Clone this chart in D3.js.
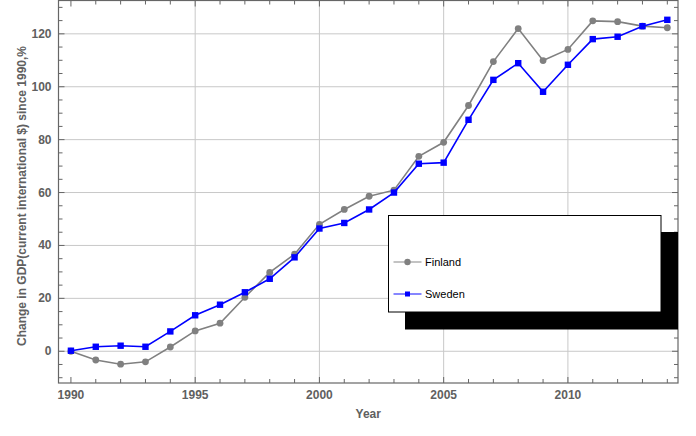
<!DOCTYPE html>
<html>
<head>
<meta charset="utf-8">
<script src="https://d3js.org/d3.v7.min.js"></script>
<style>
body { margin: 0; background: #fff; }
svg { display: block; font-family: "Liberation Sans", Arial, sans-serif; }
</style>
</head>
<body>
<script>
var years = d3.range(1990, 2015);
var finland = [0, -3.3, -4.9, -4.0, 1.6, 7.7, 10.6, 20.4, 29.8, 36.7, 48.0, 53.6, 58.6, 60.9, 73.7, 79.0, 92.9, 109.5, 122.0, 109.9, 114.1, 124.9, 124.6, 122.9, 122.3];
var sweden = [0.2, 1.7, 2.1, 1.7, 7.5, 13.6, 17.6, 22.3, 27.4, 35.5, 46.4, 48.5, 53.6, 60.0, 70.9, 71.3, 87.5, 102.6, 108.9, 98.1, 108.3, 118.0, 118.9, 122.9, 125.3];
var xMajor = [1990, 1995, 2000, 2005, 2010];
var yMajor = [0, 20, 40, 60, 80, 100, 120];
var series = [
  {name: "Finland", values: finland, color: "#808080", marker: "circle"},
  {name: "Sweden", values: sweden, color: "#0000ff", marker: "square"}
];

var W = 696, H = 436;
var L = 58.5, R = 678, T = 0.5, B = 383;

var svg = d3.select("body").append("svg").attr("width", W).attr("height", H);

var x = d3.scaleLinear().domain([1989.5, 2014.43]).range([L, R]);
var y = d3.scaleLinear().domain([-12, 132.6]).range([B, T]);

// grid
svg.append("g").selectAll("line").data(xMajor.filter(function(d){ return d > 1990; })).enter().append("line")
  .attr("x1", function(d){ return x(d); }).attr("x2", function(d){ return x(d); })
  .attr("y1", T).attr("y2", B)
  .style("stroke", "#c8c8c8").style("stroke-width", 1);
svg.append("g").selectAll("line").data(yMajor).enter().append("line")
  .attr("x1", L).attr("x2", R)
  .attr("y1", function(d){ return y(d); }).attr("y2", function(d){ return y(d); })
  .style("stroke", "#c8c8c8").style("stroke-width", 1);

// axes with inward ticks on all four sides
var minorX = years, minorY = d3.range(-10, 131, 5);
function tickLen(major, d){ return major.indexOf(d) >= 0 ? 6 : 4; }

var axisColor = "#666";
svg.append("g").attr("transform", "translate(0," + B + ")")
  .call(d3.axisBottom(x).tickValues(minorX).tickSize(0).tickFormat(""))
  .call(function(g){ g.select(".domain").remove(); });

var ticks = svg.append("g").style("stroke", axisColor).style("stroke-width", 1);
minorX.forEach(function(d){
  var l = tickLen(xMajor, d);
  ticks.append("line").attr("x1", x(d)).attr("x2", x(d)).attr("y1", B).attr("y2", B - l);
  ticks.append("line").attr("x1", x(d)).attr("x2", x(d)).attr("y1", T).attr("y2", T + l);
});
minorY.forEach(function(d){
  var l = tickLen(yMajor, d);
  ticks.append("line").attr("y1", y(d)).attr("y2", y(d)).attr("x1", L).attr("x2", L + l);
  ticks.append("line").attr("y1", y(d)).attr("y2", y(d)).attr("x1", R).attr("x2", R - l);
});

svg.append("rect").attr("x", L).attr("y", T).attr("width", R - L).attr("height", B - T)
  .style("fill", "none").style("stroke", axisColor).style("stroke-width", 1.2);

// tick labels
svg.append("g").selectAll("text").data(xMajor).enter().append("text")
  .attr("x", function(d){ return x(d); }).attr("y", B + 16)
  .attr("text-anchor", "middle")
  .style("font-size", "12px").style("font-weight", "bold").style("fill", "#606060")
  .text(function(d){ return d; });
svg.append("g").selectAll("text").data(yMajor).enter().append("text")
  .attr("x", L - 7).attr("y", function(d){ return y(d) + 4; })
  .attr("text-anchor", "end")
  .style("font-size", "12px").style("font-weight", "bold").style("fill", "#606060")
  .text(function(d){ return d; });

// axis titles
svg.append("text").attr("x", (L + R) / 2).attr("y", 418)
  .attr("text-anchor", "middle")
  .style("font-size", "12px").style("font-weight", "bold").style("fill", "#606060")
  .text("Year");
svg.append("text").attr("transform", "translate(26,196) rotate(-90)")
  .attr("text-anchor", "middle")
  .style("font-size", "12px").style("font-weight", "bold").style("fill", "#606060")
  .text("Change in GDP(current international $) since 1990,%");

// lines and markers
var line = d3.line().x(function(d, i){ return x(years[i]); }).y(function(d){ return y(d); });
series.forEach(function(s){
  svg.append("path").datum(s.values).attr("d", line)
    .style("fill", "none").style("stroke", s.color).style("stroke-width", 1.6);
  if (s.marker === "circle") {
    svg.append("g").selectAll("circle").data(s.values).enter().append("circle")
      .attr("cx", function(d, i){ return x(years[i]); })
      .attr("cy", function(d){ return y(d); })
      .attr("r", 3.4).style("fill", s.color);
  } else {
    svg.append("g").selectAll("rect").data(s.values).enter().append("rect")
      .attr("x", function(d, i){ return x(years[i]) - 3.2; })
      .attr("y", function(d){ return y(d) - 3.2; })
      .attr("width", 6.4).attr("height", 6.4).style("fill", s.color);
  }
});

// legend with shadow
svg.append("rect").attr("x", 405).attr("y", 232).attr("width", R - 405).attr("height", 97.5).style("fill", "#000");
svg.append("rect").attr("x", 388.5).attr("y", 215.5).attr("width", 272.5).attr("height", 96.5)
  .style("fill", "#fff").style("stroke", "#000").style("stroke-width", 1);
var legY = [262, 294];
series.forEach(function(s, i){
  var g = svg.append("g");
  g.append("line").attr("x1", 393.5).attr("x2", 421.5).attr("y1", legY[i]).attr("y2", legY[i])
    .style("stroke", s.color).style("stroke-width", 1.6).style("stroke-opacity", 0.6);
  if (s.marker === "circle") {
    g.append("circle").attr("cx", 407.5).attr("cy", legY[i]).attr("r", 3.2).style("fill", s.color);
  } else {
    g.append("rect").attr("x", 405).attr("y", legY[i] - 2.5).attr("width", 5).attr("height", 5).style("fill", s.color);
  }
  g.append("text").attr("x", 425).attr("y", legY[i] + 4)
    .style("font-size", "11px").style("fill", "#000").text(s.name);
});
</script>
</body>
</html>
